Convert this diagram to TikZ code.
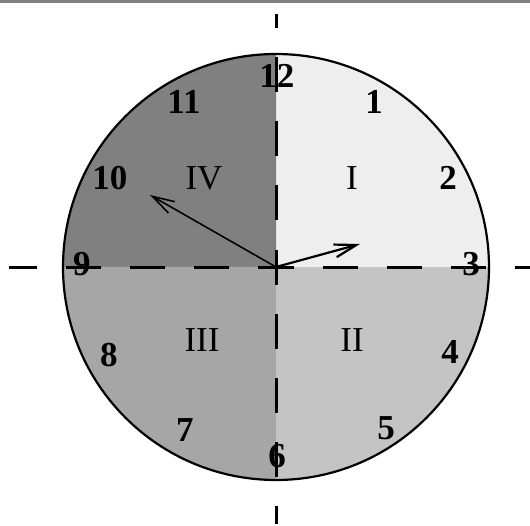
\documentclass[tikz,border=0pt]{standalone}
\usepackage{fontspec}
\setmainfont{Liberation Serif}
\usetikzlibrary{arrows.meta}

\begin{document}
\begin{tikzpicture}[x=1pt,y=1pt,
  axisline/.style={line width=3pt,dash pattern=on 35pt off 29pt,dash phase=17.5pt},
  hournum/.style={font=\fontsize{35}{35}\selectfont\bfseries,inner sep=0pt},
  quadlabel/.style={font=\fontsize{35}{35}\selectfont,inner sep=0pt},
  hand/.style={-{Straight Barb[length=22pt,width=13pt]}}]

 \useasboundingbox (-276,-258) rectangle (254,267);
 \draw[gray,line width=3pt] (-276,265) -- (254,265);

 % ---- quadrants ----
 \coordinate (O) at (0,0);
 \fill[gray!13] (O) -- (0:213) arc (0:90:213) -- cycle;
 \fill[gray!100] (O) -- (90:213) arc (90:180:213) -- cycle;
 \fill[gray!70] (O) -- (180:213) arc (180:270:213) -- cycle;
 \fill[gray!46] (O) -- (270:213) arc (270:360:213) -- cycle;
 \draw[line width=2.2pt] (O) circle (213);

 % ---- labels ----
 \node[quadlabel] (qI) at (76,89) {I};
 \node[quadlabel] (qII) at (76,-73) {II};
 \node[quadlabel] (qIII) at (-74,-73) {III};
 \node[quadlabel] (qIV) at (-72,89) {IV};
 \foreach \h/\x/\y in {1/98/165,2/172/89,3/195/3,4/174/-85,5/110/-161,6/1/-189,
   7/-91/-163,8/-167/-88,9/-194/3,10/-166/89,11/-92/165,12/1/191}
   \node[hournum] (h\h) at (\x,\y) {\h};

 % ---- axes ----
 \coordinate (R) at (254,0);
 \coordinate (L) at (-267,0);
 \coordinate (T) at (0,253);
 \coordinate (B) at (0,-257);
 \foreach \e in {R,L,T,B} \draw[axisline] (O) -- (\e);

 % ---- hands ----
 \coordinate (hourtip) at (84,23);
 \coordinate (mintip) at (-126,72);
 \draw[hand,line width=2.2pt] (O) -- (hourtip);
 \draw[hand,line width=1.6pt] (O) -- (mintip);
\end{tikzpicture}
\end{document}
